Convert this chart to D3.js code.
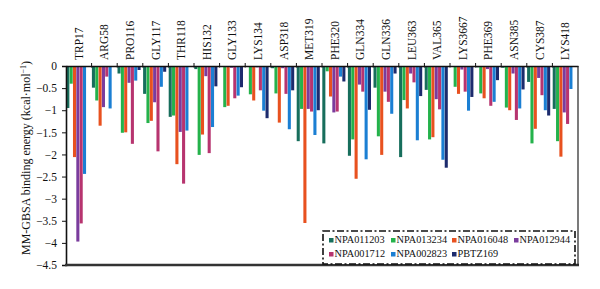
<!DOCTYPE html>
<html><head><meta charset="utf-8">
<script src="https://cdn.jsdelivr.net/npm/d3@7"></script>
<style>body{margin:0;background:#fff}svg{display:block}text{font-family:"Liberation Serif","Times New Roman",serif}</style>
</head><body>
<svg id="c" width="600" height="289"></svg>
<script>
const categories = ["TRP17","ARG58","PRO116","GLY117","THR118","HIS132","GLY133","LYS134","ASP318","MET319","PHE320","GLN334","GLN336","LEU363","VAL365","LYS3667","PHE369","ASN385","CYS387","LYS418"];
const seriesNames = ["NPA011203","NPA013234","NPA016048","NPA012944","NPA001712","NPA002823","PBTZ169"];
const NPA011203 = [-0.95,-0.49,-0.17,-0.63,-1.15,-0.07,-0.02,-0.02,-0.05,-1.70,-1.75,-2.03,-0.49,-2.06,-0.54,-0.02,-0.03,-0.04,-0.36,-0.97];
const NPA013234 = [-0.40,-0.78,-1.51,-1.29,-1.12,-2.01,-0.93,-0.64,-0.62,-0.97,-0.12,-1.66,-1.59,-0.77,-1.66,-0.47,-0.62,-0.94,-1.75,-1.70];
const NPA016048 = [-2.06,-1.35,-1.50,-1.24,-2.22,-1.55,-0.90,-0.78,-1.28,-3.55,-0.69,-2.55,-2.01,-0.96,-1.61,-0.63,-0.73,-1.00,-1.42,-2.05];
const NPA012944 = [-3.97,-0.93,-0.38,-0.82,-1.49,-0.23,-0.04,-0.03,-0.05,-0.97,-1.05,-0.42,-0.58,-0.17,-0.75,-0.08,-0.07,-0.17,-0.27,-1.05];
const NPA001712 = [-3.56,-0.24,-1.76,-1.93,-2.66,-1.97,-0.73,-0.55,-0.63,-1.03,-1.03,-0.58,-0.81,-0.37,-0.98,-0.58,-0.90,-1.22,-0.66,-1.31];
const NPA002823 = [-2.44,-0.96,-0.33,-0.47,-1.46,-1.38,-0.67,-1.01,-1.43,-1.56,-0.24,-2.11,-1.08,-1.68,-2.12,-1.01,-0.81,-0.96,-1.00,-0.52];
const PBTZ169  = [-0.01,-0.01,-0.09,-0.13,-0.01,-0.46,-0.48,-1.18,-0.55,-1.00,-0.35,-0.99,-0.17,-0.68,-2.30,-0.70,-0.32,-0.53,-1.12,-0.01];
const yTicks = [0,-0.5,-1,-1.5,-2,-2.5,-3,-3.5,-4,-4.5];
const colors = ["#176e5c","#24b24b","#e8511f","#7a3c9d","#b7346f","#1b7fd3","#1c2b6d"];

const seriesValues = [NPA011203,NPA013234,NPA016048,NPA012944,NPA001712,NPA002823,PBTZ169];
const svg = d3.select("#c");
const L=66, R=578, T=66, B=265;
const x = d3.scaleBand().domain(categories).range([L,R]).padding(0);
const xs = d3.scaleBand().domain(seriesNames).range([0.3, x.bandwidth()-2.2]).paddingInner(0.08);
const y = d3.scaleLinear().domain([0,-4.5]).range([T,B]);

// bars
seriesNames.forEach((s,si)=>{
  svg.append("g").selectAll("rect").data(categories).join("rect")
    .attr("x", c=>x(c)+xs(s))
    .attr("width", xs.bandwidth())
    .attr("y", y(0))
    .attr("height", (c,i)=>y(seriesValues[si][i])-y(0))
    .attr("fill", colors[si]);
});

// left axis
const ya = svg.append("g").attr("transform",`translate(${L},0)`)
  .call(d3.axisLeft(y).tickValues(yTicks).tickSize(4).tickPadding(5).tickFormat(d3.format("")));
ya.select(".domain").attr("stroke","#111").attr("stroke-width",1.6);
ya.selectAll(".tick line").attr("stroke","#111");
ya.selectAll("text").attr("font-size",11.5).attr("fill","#111");

// top axis at zero
const xa = svg.append("g").attr("transform",`translate(0,${y(0)})`)
  .call(d3.axisTop(x).tickSize(0).tickFormat(""));
xa.select(".domain").attr("stroke","#111").attr("stroke-width",1.4);
svg.append("g").selectAll("line").data(categories.slice(1)).join("line")
  .attr("x1",c=>x(c)).attr("x2",c=>x(c)).attr("y1",y(0)-3).attr("y2",y(0)+1.5)
  .attr("stroke","#111").attr("stroke-width",1);
svg.append("g").selectAll("text").data(categories).join("text")
  .attr("transform",c=>`translate(${x(c)+x.bandwidth()/2+4},${y(0)-6}) rotate(-90)`)
  .attr("font-size",11.5).attr("fill","#111").text(c=>c);

// bottom and right frame
svg.append("line").attr("x1",L-1).attr("x2",R+1).attr("y1",B).attr("y2",B).attr("stroke","#333").attr("stroke-width",2.4);
svg.append("line").attr("x1",R).attr("x2",R).attr("y1",y(0)).attr("y2",B).attr("stroke","#222").attr("stroke-width",1.2);

// y title
const yt = svg.append("text").attr("transform",`translate(${30},${158}) rotate(-90)`)
  .attr("text-anchor","middle").attr("font-size",12).attr("fill","#111");
yt.append("tspan").text("MM-GBSA binding energy (kcal·mol");
yt.append("tspan").attr("font-size",8).attr("baseline-shift","super").text("−1");
yt.append("tspan").text(")");

// legend
svg.append("rect").attr("x",323).attr("y",231).attr("width",252).attr("height",33)
  .attr("fill","#fff").attr("stroke","#111").attr("stroke-width",1.6).attr("stroke-dasharray","7,2.5,2,2.5");
const lx=[329,391,452,514], ly=[243,257];
seriesNames.forEach((s,i)=>{
  const gx=lx[i%4], gy=ly[Math.floor(i/4)];
  svg.append("rect").attr("x",gx).attr("y",gy-5).attr("width",4.5).attr("height",4.5).attr("fill",colors[i]);
  svg.append("text").attr("x",gx+5.5).attr("y",gy).attr("font-size",10.3).attr("fill","#111").text(s);
});
</script>
</body></html>
